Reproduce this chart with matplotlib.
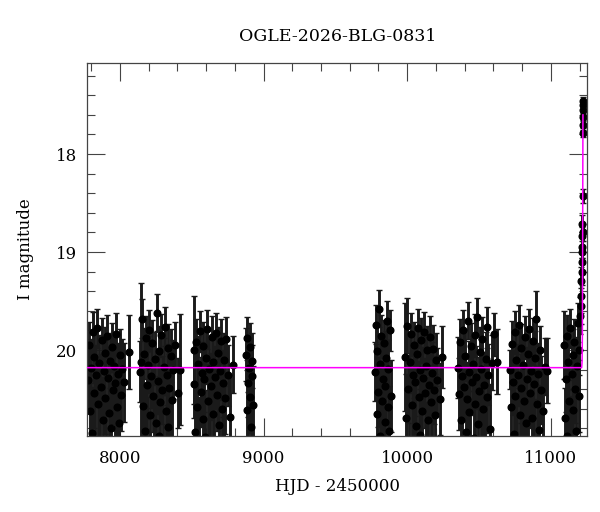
import numpy as np
import matplotlib
matplotlib.use("Agg")
import matplotlib.pyplot as plt
from matplotlib.ticker import MultipleLocator

plt.rcParams['font.family'] = ['DejaVu Serif']

title = "OGLE-2026-BLG-0831"

# season 1
hjd_s1 = [7778, 7785, 7791, 7798, 7803, 7810, 7816, 7822, 7829, 7835, 7841, 7848, 7853, 7860, 7866, 7873, 7879, 7885, 7892, 7898,
          7904, 7911, 7917, 7923, 7930, 7936, 7942, 7949, 7955, 7962, 7968, 7974, 7981, 7987, 7994, 8000, 8007, 8015, 8030, 8062]
mag_s1 = [20.31, 19.95, 20.62, 20.18, 20.85, 19.82, 20.44, 20.07, 21.02, 20.26, 19.78, 20.55, 20.13, 20.92, 20.38, 19.90, 20.71, 20.21, 20.03, 20.49,
          20.96, 19.86, 20.29, 20.64, 20.11, 20.80, 19.97, 20.41, 20.16, 21.05, 20.34, 19.84, 20.58, 20.24, 20.75, 20.05, 20.46, 20.19, 20.33, 20.02]
err_s1 = [0.33, 0.24, 0.41, 0.29, 0.47, 0.21, 0.36, 0.27, 0.52, 0.31, 0.20, 0.39, 0.28, 0.49, 0.34, 0.23, 0.43, 0.30, 0.26, 0.37,
          0.50, 0.22, 0.32, 0.42, 0.28, 0.45, 0.25, 0.35, 0.29, 0.53, 0.34, 0.22, 0.40, 0.31, 0.44, 0.26, 0.37, 0.30, 0.40, 0.38]

# season 2
hjd_s2 = [8142, 8147, 8153, 8160, 8166, 8172, 8179, 8185, 8191, 8198, 8204, 8210, 8217, 8223, 8229, 8236, 8242, 8248, 8255, 8261,
          8268, 8274, 8280, 8287, 8293, 8299, 8306, 8312, 8318, 8325, 8331, 8337, 8344, 8350, 8357, 8363, 8370, 8385, 8405, 8421]
mag_s2 = [20.22, 20.12, 19.68, 20.57, 20.04, 20.83, 19.88, 20.36, 20.98, 20.15, 19.80, 20.66, 20.27, 19.93, 20.47, 21.03, 20.09, 20.74, 19.62, 20.32,
          20.88, 20.01, 20.53, 19.85, 20.41, 20.95, 20.17, 19.76, 20.62, 20.25, 20.79, 19.98, 20.39, 21.08, 20.06, 20.51, 20.20, 19.95, 20.44, 20.20]
err_s2 = [0.31, 0.80, 0.20, 0.39, 0.26, 0.46, 0.23, 0.34, 0.50, 0.29, 0.21, 0.42, 0.32, 0.24, 0.37, 0.52, 0.27, 0.44, 0.19, 0.33,
          0.48, 0.26, 0.38, 0.22, 0.35, 0.49, 0.29, 0.20, 0.41, 0.31, 0.45, 0.25, 0.35, 0.54, 0.27, 0.38, 0.30, 0.24, 0.36, 0.57]

# season 3
hjd_s3 = [8512, 8518, 8524, 8531, 8537, 8543, 8550, 8556, 8562, 8569, 8575, 8581, 8588, 8594, 8600, 8607, 8613, 8619, 8626, 8632,
          8638, 8645, 8651, 8657, 8664, 8670, 8676, 8683, 8689, 8695, 8702, 8708, 8714, 8721, 8727, 8733, 8740, 8752, 8768, 8785]
mag_s3 = [20.35, 20.00, 20.84, 19.92, 20.58, 20.14, 20.99, 19.81, 20.43, 20.23, 20.70, 19.96, 20.30, 20.89, 20.08, 19.79, 20.52, 20.19, 21.04, 20.37,
          19.87, 20.65, 20.12, 20.94, 20.28, 19.83, 20.46, 20.03, 20.77, 20.21, 19.91, 20.60, 20.34, 21.01, 20.10, 20.49, 19.89, 20.26, 20.68, 20.15]
err_s3 = [0.34, 0.55, 0.47, 0.24, 0.40, 0.28, 0.51, 0.21, 0.36, 0.31, 0.43, 0.25, 0.33, 0.48, 0.27, 0.20, 0.38, 0.30, 0.52, 0.34,
          0.22, 0.42, 0.28, 0.50, 0.32, 0.21, 0.37, 0.26, 0.45, 0.30, 0.23, 0.41, 0.34, 0.51, 0.27, 0.37, 0.23, 0.31, 0.43, 0.29]

# season 4 (short)
hjd_s4 = [8876, 8881, 8885, 8890, 8894, 8899, 8903, 8908, 8912, 8917, 8922, 8928]
mag_s4 = [20.05, 20.61, 19.88, 20.34, 20.92, 20.18, 19.97, 20.48, 20.79, 20.11, 20.27, 20.56]
err_s4 = [0.27, 0.41, 0.22, 0.34, 0.49, 0.29, 0.25, 0.37, 0.45, 0.28, 0.32, 0.40]

# season 5
hjd_s5 = [9778, 9783, 9788, 9793, 9798, 9803, 9808, 9813, 9818, 9823, 9828, 9833, 9838, 9843, 9848, 9853, 9858, 9863, 9868, 9874, 9880, 9887]
mag_s5 = [20.22, 19.74, 20.65, 20.01, 20.43, 19.58, 20.88, 20.14, 19.86, 20.52, 20.30, 20.97, 19.93, 20.37, 20.73, 20.08, 19.70, 20.58, 20.19, 20.83, 19.80, 20.47]
err_s5 = [0.30, 0.20, 0.41, 0.26, 0.36, 0.19, 0.47, 0.28, 0.22, 0.38, 0.33, 0.50, 0.24, 0.34, 0.44, 0.27, 0.20, 0.40, 0.29, 0.46, 0.21, 0.37]

# season 6
hjd_s6 = [9985, 9995, 10001, 10008, 10014, 10020, 10026, 10032, 10038, 10044, 10050, 10056, 10062, 10068, 10074, 10080, 10086, 10092, 10098, 10104,
          10110, 10116, 10122, 10128, 10134, 10140, 10146, 10152, 10158, 10164, 10170, 10176, 10182, 10188, 10194, 10200, 10210, 10225, 10241]
mag_s6 = [20.07, 20.69, 19.75, 20.40, 20.93, 20.12, 19.84, 20.56, 20.25, 21.00, 19.95, 20.33, 20.78, 20.04, 19.78, 20.48, 20.20, 20.87, 19.90, 20.62,
          20.29, 19.82, 20.44, 21.06, 20.16, 20.00, 20.71, 20.36, 19.87, 20.53, 20.23, 20.96, 19.99, 20.41, 20.66, 20.10, 20.31, 20.50, 20.07]
err_s6 = [0.55, 0.45, 0.28, 0.35, 0.49, 0.28, 0.22, 0.39, 0.31, 0.51, 0.24, 0.34, 0.45, 0.26, 0.20, 0.37, 0.30, 0.47, 0.23, 0.41,
          0.32, 0.21, 0.36, 0.53, 0.29, 0.25, 0.43, 0.34, 0.22, 0.38, 0.31, 0.50, 0.25, 0.35, 0.42, 0.27, 0.33, 0.37, 0.32]

# season 7
hjd_s7 = [10352, 10360, 10367, 10373, 10379, 10385, 10391, 10397, 10403, 10409, 10415, 10421, 10427, 10433, 10439, 10445, 10451, 10457, 10463, 10469,
          10475, 10481, 10487, 10493, 10499, 10505, 10511, 10517, 10523, 10529, 10535, 10541, 10547, 10553, 10559, 10566, 10575, 10590, 10608, 10624]
mag_s7 = [20.18, 20.45, 19.92, 20.71, 20.27, 20.98, 19.80, 20.38, 20.06, 20.84, 20.50, 19.70, 20.22, 20.63, 21.02, 19.96, 20.33, 20.14, 20.90, 19.85,
          20.55, 20.28, 19.66, 20.76, 20.42, 20.02, 20.95, 20.19, 19.89, 20.60, 20.36, 21.05, 20.09, 19.77, 20.48, 20.25, 20.81, 20.13, 19.84, 20.12]
err_s7 = [0.31, 0.37, 0.24, 0.43, 0.32, 0.50, 0.21, 0.34, 0.26, 0.46, 0.38, 0.19, 0.31, 0.41, 0.52, 0.24, 0.33, 0.28, 0.48, 0.22,
          0.39, 0.32, 0.19, 0.44, 0.35, 0.26, 0.49, 0.30, 0.23, 0.40, 0.34, 0.53, 0.27, 0.21, 0.37, 0.31, 0.46, 0.28, 0.22, 0.33]

# season 8
hjd_s8 = [10716, 10723, 10730, 10736, 10742, 10748, 10754, 10760, 10766, 10772, 10778, 10784, 10790, 10796, 10802, 10808, 10814, 10820, 10826, 10832,
          10838, 10844, 10850, 10856, 10862, 10868, 10874, 10880, 10886, 10892, 10898, 10904, 10910, 10918, 10926, 10935, 10945, 10958, 10972]
mag_s8 = [20.20, 20.58, 19.94, 20.33, 20.86, 19.82, 20.47, 20.10, 21.01, 20.26, 19.74, 20.66, 20.39, 19.98, 20.93, 20.15, 20.52, 19.87, 20.74, 20.30,
          20.04, 20.97, 19.79, 20.44, 20.21, 20.69, 19.91, 20.35, 21.03, 20.08, 19.68, 20.55, 20.24, 20.82, 20.00, 20.41, 20.62, 20.17, 20.21]
err_s8 = [0.20, 0.39, 0.24, 0.33, 0.47, 0.22, 0.37, 0.27, 0.51, 0.31, 0.20, 0.42, 0.35, 0.25, 0.49, 0.29, 0.38, 0.22, 0.44, 0.33,
          0.26, 0.50, 0.21, 0.36, 0.31, 0.43, 0.24, 0.34, 0.53, 0.27, 0.28, 0.39, 0.31, 0.46, 0.25, 0.35, 0.41, 0.29, 0.33]

# season 9 baseline + event
hjd_s9 = [11090, 11097, 11104, 11110, 11116, 11122, 11128, 11134, 11140, 11146, 11152, 11158, 11164, 11170, 11176, 11182, 11188, 11194, 11199, 11204,
          11207, 11210, 11212, 11214, 11216, 11217, 11218, 11219, 11220, 11221, 11222, 11223, 11224, 11224.5, 11225, 11225.5, 11226]
mag_s9 = [19.95, 20.69, 20.30, 19.86, 20.88, 20.12, 20.52, 19.78, 20.97, 20.24, 20.05, 20.61, 19.92, 20.40, 20.83, 20.16, 19.72, 20.47, 20.00, 19.65,
          19.45, 19.30, 19.55, 19.10, 19.20, 18.95, 18.84, 18.71, 19.00, 18.43, 18.80, 17.78, 17.62, 17.50, 17.46, 17.55, 17.70]
err_s9 = [0.35, 0.30, 0.33, 0.22, 0.47, 0.28, 0.38, 0.20, 0.50, 0.31, 0.26, 0.41, 0.24, 0.35, 0.46, 0.29, 0.20, 0.37, 0.25, 0.19,
          0.17, 0.15, 0.18, 0.12, 0.14, 0.11, 0.10, 0.09, 0.11, 0.07, 0.09, 0.05, 0.04, 0.04, 0.04, 0.04, 0.05]

# model curve
model_hjd = [7770, 11215, 11218, 11220, 11221, 11222, 11223, 11224]
model_mag = [20.18, 20.18, 20.12, 19.85, 19.45, 18.85, 18.15, 17.60]

hjd = np.concatenate([hjd_s1, hjd_s2, hjd_s3, hjd_s4, hjd_s5, hjd_s6, hjd_s7, hjd_s8, hjd_s9])
mag = np.concatenate([mag_s1, mag_s2, mag_s3, mag_s4, mag_s5, mag_s6, mag_s7, mag_s8, mag_s9])
err = np.concatenate([err_s1, err_s2, err_s3, err_s4, err_s5, err_s6, err_s7, err_s8, err_s9])

fig = plt.figure(figsize=(6, 5.12), dpi=100)
ax = fig.add_axes([0.145, 0.148, 0.834, 0.729])

# the real light curve is very dense, so draw bars thick to get the solid look
ax.errorbar(hjd, mag, yerr=err, fmt='o', color='black', ms=4.8, ecolor='#1a1a1a',
            elinewidth=2.1, capsize=2.4, capthick=1.0, zorder=2)
ax.plot(model_hjd, model_mag, color='magenta', lw=1.1, zorder=3)

ax.set_xlim(7770, 11255)
ax.set_ylim(20.88, 17.07)

ax.xaxis.set_major_locator(MultipleLocator(1000))
ax.xaxis.set_minor_locator(MultipleLocator(200))
ax.yaxis.set_major_locator(MultipleLocator(1))
ax.yaxis.set_minor_locator(MultipleLocator(0.2))
ax.tick_params(which='both', direction='in', top=True, right=True, color='#444444', width=0.8)
ax.tick_params(which='major', length=13, labelsize=12)
ax.tick_params(axis='x', which='major', pad=10)
ax.tick_params(axis='y', which='major', pad=7)
ax.tick_params(which='minor', length=6)
for s in ax.spines.values():
    s.set_color('#444444')
    s.set_linewidth(0.9)

ax.set_xlabel("HJD - 2450000", fontsize=12, labelpad=8)
ax.set_ylabel("I magnitude", fontsize=12, labelpad=16)
ax.set_title(title, fontsize=12.5, pad=16)

fig.savefig("out.png", dpi=100)
